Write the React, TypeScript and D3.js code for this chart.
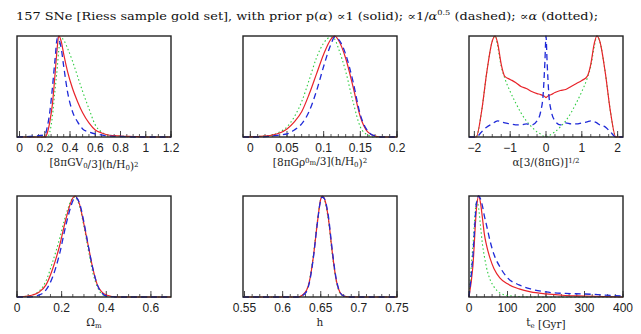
import React, { useEffect, useRef } from 'react';
import * as d3 from 'd3';

const width = 641;
const height = 334;

// panel 1: [8piGV0/3](h/H0)^2
const v0X = [-0.02, 0.2, 0.22, 0.24, 0.26, 0.28, 0.3, 0.31, 0.33, 0.35, 0.38, 0.42, 0.46, 0.5, 0.55, 0.6, 0.65, 0.7, 0.8, 0.9, 1.0, 1.1, 1.2];
const v0Solid = [0, 0, 0.04, 0.15, 0.32, 0.6, 0.9, 1.0, 0.95, 0.82, 0.65, 0.48, 0.35, 0.24, 0.14, 0.07, 0.04, 0.02, 0.01, 0.005, 0, 0, 0];
const v0Dashed = [0, 0.02, 0.1, 0.25, 0.48, 0.75, 0.98, 0.97, 0.88, 0.7, 0.45, 0.25, 0.15, 0.08, 0.05, 0.03, 0.02, 0.01, 0.005, 0, 0, 0, 0];
const v0Dotted = [0, 0, 0, 0.05, 0.2, 0.45, 0.7, 0.85, 0.98, 0.96, 0.88, 0.75, 0.6, 0.45, 0.28, 0.12, 0.05, 0.02, 0.01, 0, 0, 0, 0];

// panel 2: [8piG rho_m^0/3](h/H0)^2
const rhoX = [-0.01, 0.01, 0.03, 0.04, 0.05, 0.06, 0.07, 0.08, 0.09, 0.1, 0.11, 0.115, 0.12, 0.13, 0.14, 0.15, 0.16, 0.17, 0.18, 0.2];
const rhoSolid = [0, 0.005, 0.02, 0.04, 0.08, 0.15, 0.25, 0.42, 0.62, 0.82, 0.97, 1.0, 0.96, 0.78, 0.5, 0.2, 0.05, 0.01, 0, 0];
const rhoDashed = [0, 0, 0.01, 0.02, 0.03, 0.07, 0.13, 0.25, 0.45, 0.7, 0.92, 0.99, 0.97, 0.82, 0.55, 0.22, 0.06, 0.01, 0, 0];
const rhoDotted = [0, 0.005, 0.02, 0.05, 0.1, 0.2, 0.35, 0.56, 0.78, 0.93, 0.99, 0.97, 0.88, 0.65, 0.35, 0.1, 0.02, 0, 0, 0];

// panel 3: alpha[3/(8piG)]^1/2
const alphaX = [-2.15, -1.95, -1.8, -1.65, -1.5, -1.42, -1.35, -1.25, -1.15, -1.0, -0.85, -0.7, -0.55, -0.4, -0.25, -0.15, -0.08, -0.03, 0, 0.03, 0.08, 0.15, 0.25, 0.4, 0.55, 0.7, 0.85, 1.0, 1.15, 1.25, 1.35, 1.42, 1.5, 1.65, 1.8, 1.95, 2.15];
const alphaSolid = [0, 0, 0.25, 0.65, 0.95, 1.0, 0.93, 0.72, 0.6, 0.57, 0.54, 0.5, 0.48, 0.45, 0.43, 0.42, 0.41, 0.4, 0.39, 0.4, 0.41, 0.42, 0.44, 0.46, 0.47, 0.5, 0.53, 0.56, 0.6, 0.72, 0.93, 1.0, 0.95, 0.65, 0.25, 0, 0];
const alphaDashed = [0, 0, 0.05, 0.1, 0.13, 0.15, 0.16, 0.15, 0.14, 0.13, 0.12, 0.12, 0.13, 0.12, 0.16, 0.25, 0.42, 0.75, 1.0, 0.75, 0.42, 0.25, 0.16, 0.12, 0.14, 0.13, 0.13, 0.14, 0.15, 0.16, 0.15, 0.14, 0.12, 0.1, 0.05, 0, 0];
const alphaDotted = [0, 0, 0.25, 0.65, 0.95, 1.0, 0.9, 0.7, 0.58, 0.45, 0.34, 0.24, 0.16, 0.1, 0.05, 0.03, 0.01, 0.005, 0, 0.005, 0.01, 0.03, 0.05, 0.1, 0.16, 0.24, 0.34, 0.45, 0.58, 0.7, 0.9, 1.0, 0.95, 0.65, 0.25, 0, 0];

// panel 4: Omega_m
const omX = [0, 0.05, 0.1, 0.13, 0.16, 0.19, 0.22, 0.25, 0.26, 0.28, 0.3, 0.32, 0.34, 0.36, 0.38, 0.4, 0.45, 0.5, 0.69];
const omSolid = [0, 0.01, 0.05, 0.12, 0.28, 0.5, 0.78, 0.98, 1.0, 0.92, 0.72, 0.5, 0.28, 0.12, 0.05, 0.02, 0, 0, 0];
const omDashed = [0, 0, 0.02, 0.07, 0.2, 0.42, 0.72, 0.95, 0.99, 0.93, 0.74, 0.5, 0.28, 0.12, 0.04, 0.01, 0, 0, 0];
const omDotted = [0, 0.01, 0.06, 0.16, 0.35, 0.57, 0.82, 0.98, 0.99, 0.9, 0.7, 0.46, 0.24, 0.1, 0.03, 0.01, 0, 0, 0];

// panel 5: h
const hX = [0.548, 0.62, 0.63, 0.635, 0.64, 0.645, 0.65, 0.652, 0.655, 0.66, 0.665, 0.67, 0.675, 0.68, 0.69, 0.75];
const hSolid = [0, 0, 0.05, 0.15, 0.38, 0.7, 0.97, 1.0, 0.97, 0.78, 0.45, 0.18, 0.05, 0.01, 0, 0];
const hDashed = [0, 0, 0.04, 0.14, 0.37, 0.7, 0.96, 0.99, 0.97, 0.8, 0.47, 0.19, 0.05, 0.01, 0, 0];
const hDotted = [0, 0, 0.05, 0.16, 0.4, 0.72, 0.97, 1.0, 0.96, 0.76, 0.43, 0.17, 0.04, 0.01, 0, 0];

// panel 6: t_e [Gyr]
const teX = [0, 10, 20, 25, 30, 35, 40, 45, 55, 65, 80, 100, 130, 160, 200, 250, 300, 350, 400];
const teSolid = [0, 0.3, 0.9, 1.0, 0.93, 0.78, 0.62, 0.52, 0.38, 0.28, 0.19, 0.13, 0.08, 0.05, 0.03, 0.015, 0.01, 0.005, 0];
const teDashed = [0, 0.4, 0.95, 1.0, 0.97, 0.9, 0.8, 0.72, 0.55, 0.42, 0.3, 0.19, 0.12, 0.08, 0.05, 0.035, 0.03, 0.02, 0.01];
const teDotted = [0, 0.5, 0.95, 0.88, 0.7, 0.52, 0.4, 0.3, 0.17, 0.1, 0.04, 0.015, 0.005, 0, 0, 0, 0, 0, 0];

const panels = [
  { col: 0, row: 0, domain: [-0.02, 1.2], major: 0.2, minor: 0.05, x: v0X, s: v0Solid, d: v0Dashed, o: v0Dotted, fmt: (v: number) => d3.format('~g')(+v.toFixed(2)) },
  { col: 1, row: 0, domain: [-0.01, 0.2], major: 0.05, minor: 0.01, x: rhoX, s: rhoSolid, d: rhoDashed, o: rhoDotted, fmt: (v: number) => d3.format('~g')(+v.toFixed(2)) },
  { col: 2, row: 0, domain: [-2.15, 2.15], major: 1, minor: 0.25, x: alphaX, s: alphaSolid, d: alphaDashed, o: alphaDotted, fmt: (v: number) => (v < 0 ? '\u2212' + Math.abs(v) : String(v)) },
  { col: 0, row: 1, domain: [0, 0.69], major: 0.2, minor: 0.05, x: omX, s: omSolid, d: omDashed, o: omDotted, fmt: (v: number) => d3.format('~g')(+v.toFixed(2)) },
  { col: 1, row: 1, domain: [0.548, 0.75], major: 0.05, minor: 0.01, x: hX, s: hSolid, d: hDashed, o: hDotted, fmt: (v: number) => d3.format('~g')(+v.toFixed(2)) },
  { col: 2, row: 1, domain: [0, 400], major: 100, minor: 20, x: teX, s: teSolid, d: teDashed, o: teDotted, fmt: (v: number) => String(Math.round(v)) },
];

const colLeft = [17, 243, 469];
const rowTop = [36, 196];
const pw = 154;
const ph = 101;

const App = () => {
  const svgRef = useRef(null);

  useEffect(() => {
    const svg = d3.select(svgRef.current);
    svg.selectAll('*').remove();

    const title = svg.append('text')
      .attr('x', 16)
      .attr('y', 20)
      .attr('font-family', 'DejaVu Serif, serif')
      .attr('font-size', 11)
      .attr('textLength', 582)
      .attr('lengthAdjust', 'spacingAndGlyphs')
      .attr('fill', '#111');
    title.append('tspan').text('157 SNe [Riess sample gold set], with prior p(');
    title.append('tspan').attr('font-style', 'italic').text('\u03b1');
    title.append('tspan').text(') \u221d1 (solid); \u221d1/');
    title.append('tspan').attr('font-style', 'italic').text('\u03b1');
    title.append('tspan').attr('font-size', 7).attr('dy', -5).text('0.5');
    title.append('tspan').attr('dy', 5).text(' (dashed); \u221d');
    title.append('tspan').attr('font-style', 'italic').text('\u03b1');
    title.append('tspan').text(' (dotted);');

    panels.forEach((p, i) => {
      const x0 = colLeft[p.col];
      const y0 = rowTop[p.row];
      const g = svg.append('g').attr('transform', `translate(${x0}, ${y0})`);

      const x = d3.scaleLinear().domain(p.domain).range([0, pw]);
      const y = d3.scaleLinear().domain([0, 1.0]).range([ph, 0]);

      // ticks on the bottom edge, pointing inward
      const minorTicks = d3.range(Math.ceil(p.domain[0] / p.minor - 1e-6), Math.floor(p.domain[1] / p.minor + 1e-6) + 1)
        .map(k => k * p.minor);
      const majorTicks = d3.range(Math.ceil(p.domain[0] / p.major - 1e-6), Math.floor(p.domain[1] / p.major + 1e-6) + 1)
        .map(k => +(k * p.major).toFixed(4));

      g.selectAll('.minor')
        .data(minorTicks)
        .join('line')
        .attr('x1', d => x(d)).attr('x2', d => x(d))
        .attr('y1', ph).attr('y2', ph - 3)
        .attr('stroke', '#333').attr('stroke-width', 0.8);

      g.selectAll('.major')
        .data(majorTicks)
        .join('line')
        .attr('x1', d => x(d)).attr('x2', d => x(d))
        .attr('y1', ph).attr('y2', ph - 6)
        .attr('stroke', '#333').attr('stroke-width', 0.9);

      g.selectAll('.tlabel')
        .data(majorTicks)
        .join('text')
        .attr('x', d => x(d))
        .attr('y', ph + 15)
        .attr('text-anchor', 'middle')
        .attr('font-family', 'Liberation Sans, sans-serif')
        .attr('font-size', 12)
        .attr('fill', '#222')
        .text(d => p.fmt(d));

      const line = d3.line<number>()
        .x((_, j) => x(p.x[j]))
        .y(d => y(d))
        .curve(d3.curveMonotoneX);

      g.append('path').attr('d', line(p.o)).attr('fill', 'none')
        .attr('stroke', '#2ecc40').attr('stroke-width', 1.1).attr('stroke-dasharray', '1.5,2.5');
      g.append('path').attr('d', line(p.s)).attr('fill', 'none')
        .attr('stroke', '#e8232a').attr('stroke-width', 1.2);
      g.append('path').attr('d', line(p.d)).attr('fill', 'none')
        .attr('stroke', '#1f2ad8').attr('stroke-width', 1.3).attr('stroke-dasharray', '6,4');

      g.append('rect')
        .attr('width', pw).attr('height', ph)
        .attr('fill', 'none').attr('stroke', '#222').attr('stroke-width', 1.4);

      // axis label
      const lab = g.append('text')
        .attr('x', pw / 2)
        .attr('y', ph + 29)
        .attr('text-anchor', 'middle')
        .attr('font-family', 'DejaVu Serif, serif')
        .attr('font-size', 10.5)
        .attr('fill', '#222');
      const sub = (t: string) => { lab.append('tspan').attr('font-size', 7).attr('dy', 2).text(t); lab.append('tspan').attr('dy', -2).text(''); };
      const sup = (t: string) => { lab.append('tspan').attr('font-size', 7).attr('dy', -3.5).text(t); lab.append('tspan').attr('dy', 3.5).text(''); };
      const txt = (t: string) => lab.append('tspan').text(t);
      if (i === 0) {
        txt('[8\u03c0GV'); sub('0'); txt('/3](h/H'); sub('0'); txt(')'); sup('2');
      } else if (i === 1) {
        txt('[8\u03c0G\u03c1'); sup('0'); sub('m');
        txt('/3](h/H'); sub('0'); txt(')'); sup('2');
      } else if (i === 2) {
        txt('\u03b1[3/(8\u03c0G)]'); sup('1/2');
      } else if (i === 3) {
        txt('\u03a9'); sub('m');
      } else if (i === 4) {
        txt('h');
      } else {
        txt('t'); sub('e'); txt(' [Gyr]');
      }
    });
  }, []);

  return (
    <svg ref={svgRef} width={width} height={height}
      style={{ position: 'absolute', left: 0, top: 0, background: '#fff' }} />
  );
};

export default App;
